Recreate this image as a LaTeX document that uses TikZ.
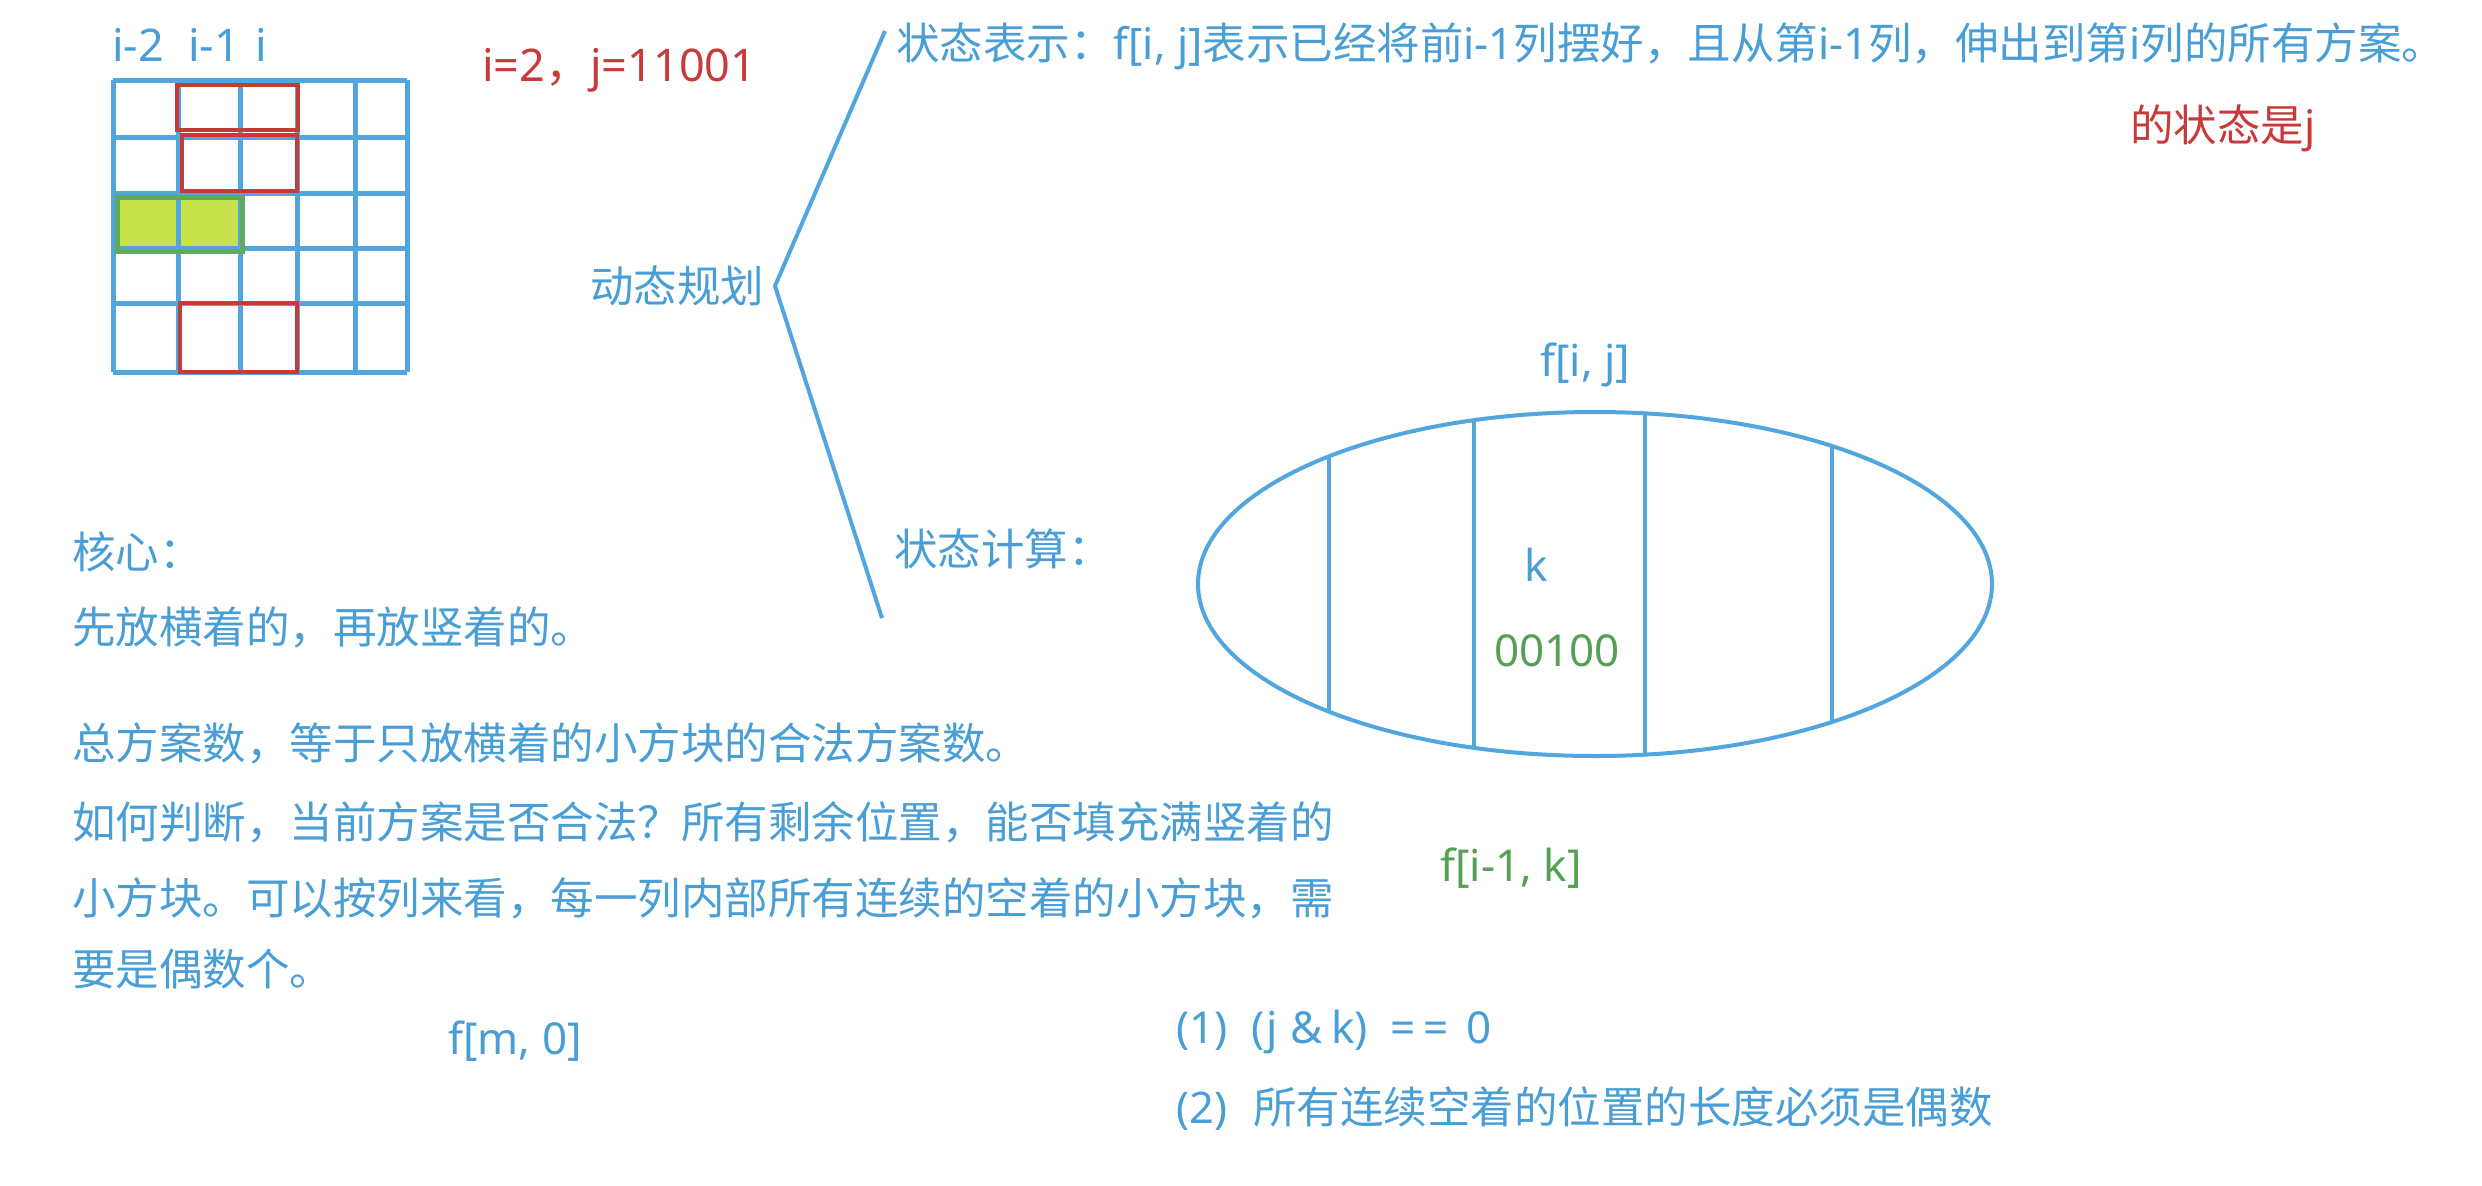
\documentclass[tikz,border=0pt]{standalone}
\usepackage{fontspec}
\usetikzlibrary{shapes.geometric}
\setmainfont{Noto Sans CJK SC}
\newfontfamily\lat{Noto Sans}
\definecolor{tblue}{RGB}{74,158,214}
\definecolor{lblue}{RGB}{82,166,222}
\definecolor{tred}{RGB}{200,58,58}
\definecolor{tgreen}{RGB}{84,160,84}
\definecolor{gfill}{RGB}{200,226,76}
\definecolor{gborder}{RGB}{96,170,96}
\begin{document}
\begin{tikzpicture}[x=1pt,y=-1pt,
  txt/.style={anchor=base west, inner sep=0pt, font=\fontsize{43.5}{52}\selectfont, text=tblue},
  redtxt/.style={txt, text=tred},
  greentxt/.style={txt, text=tgreen},
  gridline/.style={draw=lblue, line width=5pt},
  redbox/.style={draw=tred, line width=4pt},
  greenbox/.style={draw=gborder, fill=gfill, line width=5pt},
  bluestroke/.style={draw=lblue, line width=4pt}]
\useasboundingbox (0,0) rectangle (2482,1186);

% grid
\path[greenbox] (117,197) rectangle (242,251);
\foreach \x in {113,178,240,297,355,407} \draw[gridline] (\x,80) -- (\x,372);
\foreach \y in {80,137,193,248,303,372} \draw[gridline] (113,\y) -- (407,\y);
\draw[draw=gborder, line width=5pt] (117,197) rectangle (242,251);
\draw[redbox] (177,85) rectangle (298,130);
\draw[redbox] (182,135) rectangle (297,191);
\draw[redbox] (180,303) rectangle (297,372);

\node[txt, font=\fontsize{45}{52}\selectfont\lat] (c1) at (112,61) {i-2};
\node[txt, font=\fontsize{45}{52}\selectfont\lat] (c2) at (188,61) {i-1};
\node[txt, font=\fontsize{45}{52}\selectfont\lat] (c3) at (255,61) {i};

\node[redtxt, font=\fontsize{45}{52}\selectfont] (ij) at (482,81) {{\lat i=2}，{\lat j=11001}};

% bracket
\coordinate (bt) at (885,31);
\coordinate (bv) at (775,286);
\coordinate (bb) at (882,618);
\draw[bluestroke, line join=round] (bt) -- (bv) -- (bb);

\node[txt] (dp) at (590,302) {动态规划};
\node[txt] (rep) at (896,59) {状态表示：{\lat f[i, j]}表示已经将前{\lat i-1}列摆好，且从第{\lat i-1}列，伸出到第{\lat i}列的所有方案。};
\node[redtxt] (rep2) at (2130,141) {的状态是{\lat j}};
\node[txt] (calc) at (894,565) {状态计算：};

% ellipse
\node[draw=lblue, line width=4pt, ellipse, minimum width=794pt, minimum height=344pt, inner sep=0pt] (ell) at (1595,584) {};
\begin{scope}
\clip (1595,584) ellipse [x radius=397, y radius=172];
\foreach \x in {1329,1474,1645,1832} \draw[bluestroke] (\x,380) -- (\x,790);
\end{scope}
\node[txt, font=\fontsize{44}{52}\selectfont\lat] (fij) at (1540,376) {f[i, j]};
\node[txt, font=\fontsize{44}{52}\selectfont\lat] (k) at (1524,581) {k};
\node[greentxt, font=\fontsize{44}{52}\selectfont\lat] (bits) at (1494,666) {00100};
\node[greentxt, font=\fontsize{44}{52}\selectfont\lat] (fik) at (1440,881) {f[i-1, k]};

% left text
\node[txt] (core) at (72,568) {核心：};
\node[txt] (l1) at (72,643) {先放横着的，再放竖着的。};
\node[txt] (l2) at (72,759) {总方案数，等于只放横着的小方块的合法方案数。};
\node[txt] (l3) at (72,838) {如何判断，当前方案是否合法？所有剩余位置，能否填充满竖着的};
\node[txt] (l4) at (72,914) {小方块。可以按列来看，每一列内部所有连续的空着的小方块，需};
\node[txt] (l5) at (72,985) {要是偶数个。};
\node[txt, font=\fontsize{44}{52}\selectfont\lat] (fm0) at (448,1054) {f[m, 0]};

\node[txt, font=\fontsize{44}{52}\selectfont\lat] (cond1) at (1176,1043) {(1)\hspace{24pt}(j\hspace{12pt}\&\hspace{9pt}k)\hspace{23pt}=\hspace{7pt}=\hspace{18pt}0};
\node[txt] (cond2) at (1176,1123) {{\lat (2)}\hspace{26pt}所有连续空着的位置的长度必须是偶数};
\end{tikzpicture}
\end{document}
